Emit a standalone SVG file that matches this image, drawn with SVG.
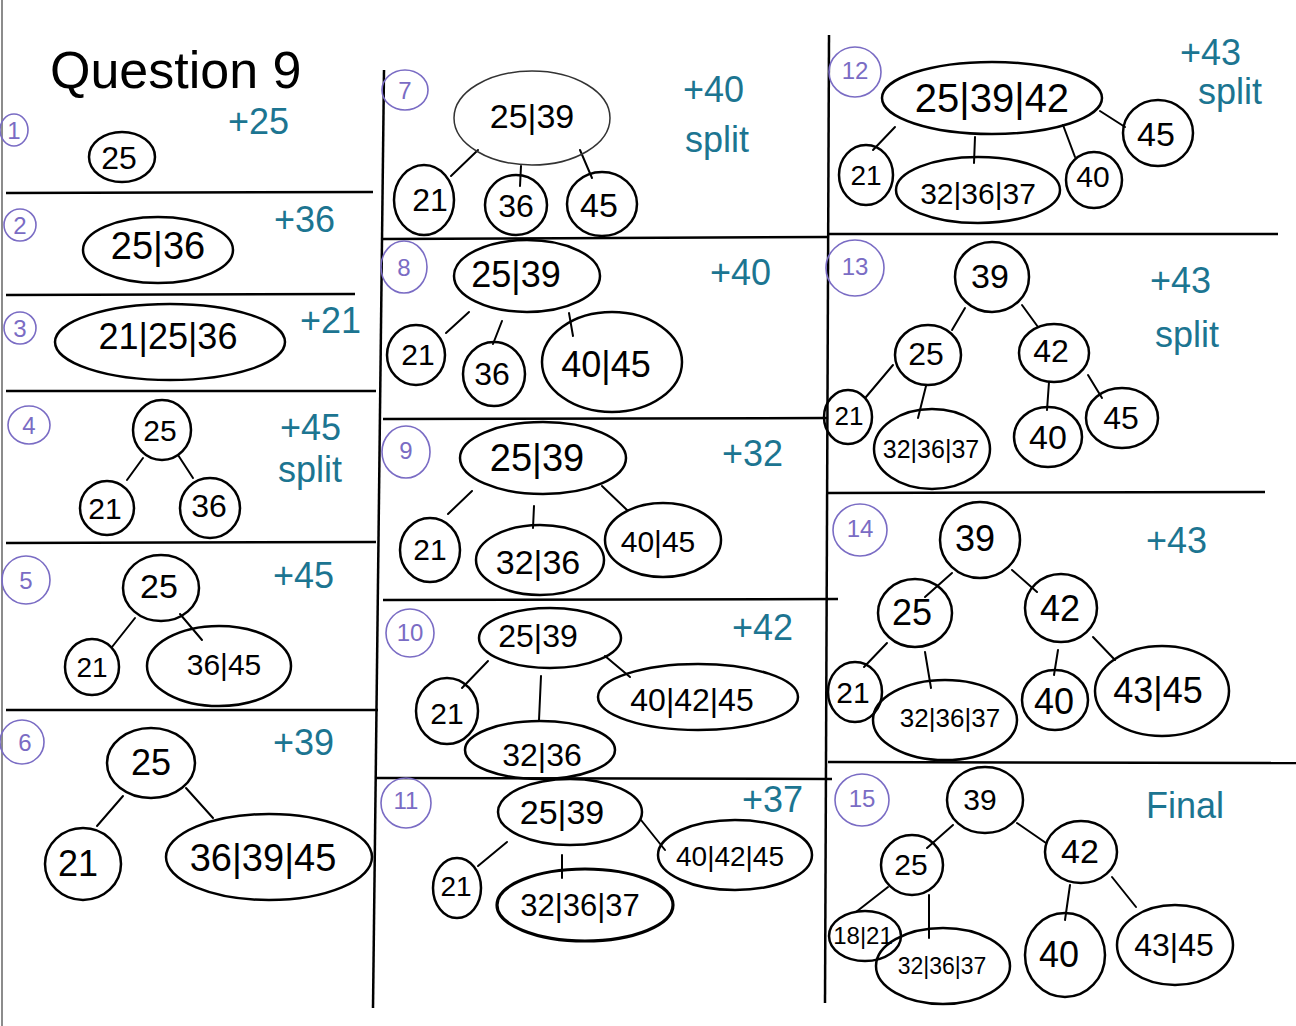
<svg xmlns="http://www.w3.org/2000/svg" width="1296" height="1026" viewBox="0 0 1296 1026">
<style>
.n{fill:none;stroke:#000;stroke-width:2.5}
.e{stroke:#000;stroke-width:2;stroke-linecap:round}
.g{stroke:#000;stroke-width:2.5;fill:none}
.t{font-family:"Liberation Sans",Arial,sans-serif;fill:#000;text-anchor:middle;dominant-baseline:central}
.sc{fill:none;stroke:#7a6cc4;stroke-width:1.6}
.sn{font-family:"Liberation Sans",Arial,sans-serif;fill:#7a6cc4;font-size:24px;text-anchor:middle;dominant-baseline:central}
.l{font-family:"Liberation Sans",Arial,sans-serif;fill:#1c7591;font-size:36px}
</style>
<rect width="1296" height="1026" fill="#fff"/>
<g id="grid">
<line x1="2" y1="0" x2="2" y2="1026" stroke="#666" stroke-width="1.5"/>
<line class="g" x1="384" y1="70" x2="373" y2="1008"/>
<line class="g" x1="829" y1="35" x2="825" y2="1003"/>
<line class="g" x1="6" y1="193" x2="373" y2="192"/>
<line class="g" x1="6" y1="295" x2="355" y2="294"/>
<line class="g" x1="6" y1="391" x2="376" y2="391"/>
<line class="g" x1="6" y1="543" x2="376" y2="542"/>
<line class="g" x1="6" y1="710" x2="378" y2="710"/>
<line class="g" x1="383" y1="239" x2="828" y2="237"/>
<line class="g" x1="383" y1="419" x2="828" y2="418"/>
<line class="g" x1="383" y1="600" x2="838" y2="599"/>
<line class="g" x1="376" y1="778" x2="832" y2="779"/>
<line class="g" x1="828" y1="234" x2="1278" y2="234"/>
<line class="g" x1="828" y1="493" x2="1265" y2="492"/>
<line class="g" x1="828" y1="762" x2="1296" y2="763"/>
</g>
<text id="title" x="50" y="88" font-family="Liberation Sans,Arial,sans-serif" font-size="52" fill="#000">Question 9</text>
<g id="steps">
<g id="step1"><ellipse class="sc" cx="14" cy="130" rx="14" ry="16"/><text class="sn" x="14" y="130">1</text></g>
<g id="step2"><ellipse class="sc" cx="20" cy="225" rx="16" ry="16"/><text class="sn" x="20" y="225">2</text></g>
<g id="step3"><ellipse class="sc" cx="20" cy="328" rx="16" ry="16"/><text class="sn" x="20" y="328">3</text></g>
<g id="step4"><ellipse class="sc" cx="29" cy="425" rx="21" ry="19"/><text class="sn" x="29" y="425">4</text></g>
<g id="step5"><ellipse class="sc" cx="26" cy="580" rx="24" ry="24"/><text class="sn" x="26" y="580">5</text></g>
<g id="step6"><ellipse class="sc" cx="22" cy="742" rx="22" ry="22"/><text class="sn" x="25" y="742">6</text></g>
<g id="step7"><ellipse class="sc" cx="405" cy="90" rx="23" ry="20"/><text class="sn" x="405" y="90">7</text></g>
<g id="step8"><ellipse class="sc" cx="404" cy="267" rx="23" ry="26"/><text class="sn" x="404" y="267">8</text></g>
<g id="step9"><ellipse class="sc" cx="406" cy="452" rx="24" ry="26"/><text class="sn" x="406" y="450">9</text></g>
<g id="step10"><ellipse class="sc" cx="410" cy="633" rx="24" ry="24"/><text class="sn" x="410" y="632">10</text></g>
<g id="step11"><ellipse class="sc" cx="406" cy="803" rx="25" ry="25"/><text class="sn" x="406" y="800">11</text></g>
<g id="step12"><ellipse class="sc" cx="855" cy="72" rx="26" ry="25"/><text class="sn" x="855" y="70">12</text></g>
<g id="step13"><ellipse class="sc" cx="855" cy="268" rx="29" ry="28"/><text class="sn" x="855" y="266">13</text></g>
<g id="step14"><ellipse class="sc" cx="860" cy="530" rx="27" ry="26"/><text class="sn" x="860" y="528">14</text></g>
<g id="step15"><ellipse class="sc" cx="862" cy="800" rx="27" ry="26"/><text class="sn" x="862" y="798">15</text></g>
</g>
<g id="labels">
<text class="l" x="228" y="134">+25</text>
<text class="l" x="274" y="232">+36</text>
<text class="l" x="300" y="333">+21</text>
<text class="l" x="280" y="440">+45</text>
<text class="l" x="278" y="482">split</text>
<text class="l" x="273" y="588">+45</text>
<text class="l" x="273" y="755">+39</text>
<text class="l" x="683" y="102">+40</text>
<text class="l" x="685" y="152">split</text>
<text class="l" x="710" y="285">+40</text>
<text class="l" x="722" y="466">+32</text>
<text class="l" x="732" y="640">+42</text>
<text class="l" x="742" y="812">+37</text>
<text class="l" x="1180" y="65">+43</text>
<text class="l" x="1198" y="104">split</text>
<text class="l" x="1150" y="293">+43</text>
<text class="l" x="1155" y="347">split</text>
<text class="l" x="1146" y="553">+43</text>
<text class="l" x="1146" y="818">Final</text>
</g>
<g id="connectors">
<line class="e" x1="143" y1="458" x2="127" y2="480"/>
<line class="e" x1="178" y1="455" x2="193" y2="478"/>
<line class="e" x1="135" y1="618" x2="112" y2="647"/>
<line class="e" x1="180" y1="614" x2="202" y2="640"/>
<line class="e" x1="123" y1="796" x2="97" y2="826"/>
<line class="e" x1="186" y1="788" x2="213" y2="818"/>
<line class="e" x1="478" y1="150" x2="451" y2="176"/>
<line class="e" x1="521" y1="166" x2="520" y2="186"/>
<line class="e" x1="580" y1="150" x2="592" y2="178"/>
<line class="e" x1="469" y1="312" x2="446" y2="333"/>
<line class="e" x1="502" y1="321" x2="493" y2="344"/>
<line class="e" x1="569" y1="313" x2="573" y2="336"/>
<line class="e" x1="472" y1="491" x2="448" y2="514"/>
<line class="e" x1="534" y1="506" x2="533" y2="528"/>
<line class="e" x1="602" y1="486" x2="627" y2="510"/>
<line class="e" x1="488" y1="661" x2="462" y2="688"/>
<line class="e" x1="541" y1="676" x2="539" y2="720"/>
<line class="e" x1="605" y1="656" x2="630" y2="677"/>
<line class="e" x1="507" y1="842" x2="478" y2="866"/>
<line class="e" x1="562" y1="855" x2="562" y2="878"/>
<line class="e" x1="641" y1="820" x2="665" y2="850"/>
<line class="e" x1="895" y1="127" x2="873" y2="150"/>
<line class="e" x1="975" y1="137" x2="974" y2="163"/>
<line class="e" x1="1063" y1="125" x2="1075" y2="157"/>
<line class="e" x1="1100" y1="111" x2="1125" y2="127"/>
<line class="e" x1="965" y1="308" x2="952" y2="330"/>
<line class="e" x1="1022" y1="305" x2="1038" y2="327"/>
<line class="e" x1="893" y1="365" x2="866" y2="397"/>
<line class="e" x1="926" y1="386" x2="918" y2="418"/>
<line class="e" x1="1049" y1="382" x2="1047" y2="410"/>
<line class="e" x1="1088" y1="375" x2="1102" y2="398"/>
<line class="e" x1="952" y1="573" x2="925" y2="597"/>
<line class="e" x1="1012" y1="570" x2="1037" y2="592"/>
<line class="e" x1="887" y1="643" x2="864" y2="667"/>
<line class="e" x1="925" y1="652" x2="931" y2="688"/>
<line class="e" x1="1058" y1="650" x2="1054" y2="675"/>
<line class="e" x1="1093" y1="637" x2="1115" y2="660"/>
<line class="e" x1="953" y1="825" x2="927" y2="848"/>
<line class="e" x1="1017" y1="823" x2="1046" y2="843"/>
<line class="e" x1="888" y1="887" x2="856" y2="912"/>
<line class="e" x1="929" y1="895" x2="929" y2="938"/>
<line class="e" x1="1070" y1="885" x2="1065" y2="920"/>
<line class="e" x1="1112" y1="877" x2="1136" y2="907"/>
</g>
<g id="nodes">
<g id="s1-25"><ellipse class="n" cx="122" cy="157" rx="33" ry="25"/><text class="t" x="119" y="158" font-size="32">25</text></g>
<g id="s2-root"><ellipse class="n" cx="158" cy="250" rx="75" ry="33"/><text class="t" x="158" y="246" font-size="38">25|36</text></g>
<g id="s3-root"><ellipse class="n" cx="170" cy="342" rx="115" ry="38"/><text class="t" x="168" y="336" font-size="36">21|25|36</text></g>
<g id="s4-25"><ellipse class="n" cx="162" cy="430" rx="29" ry="30"/><text class="t" x="160" y="430" font-size="30">25</text></g>
<g id="s4-21"><ellipse class="n" cx="107" cy="508" rx="27" ry="27"/><text class="t" x="105" y="508" font-size="30">21</text></g>
<g id="s4-36"><ellipse class="n" cx="210" cy="508" rx="30" ry="30"/><text class="t" x="209" y="506" font-size="32">36</text></g>
<g id="s5-25"><ellipse class="n" cx="161" cy="588" rx="38" ry="33"/><text class="t" x="159" y="586" font-size="34">25</text></g>
<g id="s5-21"><ellipse class="n" cx="92" cy="667" rx="27" ry="28"/><text class="t" x="92" y="667" font-size="28">21</text></g>
<g id="s5-3645"><ellipse class="n" cx="219" cy="666" rx="72" ry="40"/><text class="t" x="224" y="664" font-size="30">36|45</text></g>
<g id="s6-25"><ellipse class="n" cx="151" cy="763" rx="44" ry="35"/><text class="t" x="151" y="762" font-size="36">25</text></g>
<g id="s6-21"><ellipse class="n" cx="83" cy="864" rx="38" ry="36"/><text class="t" x="78" y="863" font-size="36">21</text></g>
<g id="s6-363945"><ellipse class="n" cx="269" cy="857" rx="103" ry="43"/><text class="t" x="263" y="858" font-size="38">36|39|45</text></g>
<g id="s7-2539"><ellipse cx="532" cy="118" rx="78" ry="47" fill="none" stroke="#333" stroke-width="1.5"/><text class="t" x="532" y="116" font-size="34">25|39</text></g>
<g id="s7-21"><ellipse class="n" cx="424" cy="200" rx="30" ry="35"/><text class="t" x="430" y="200" font-size="32">21</text></g>
<g id="s7-36"><ellipse class="n" cx="516" cy="205" rx="31" ry="30"/><text class="t" x="516" y="206" font-size="32">36</text></g>
<g id="s7-45"><ellipse class="n" cx="602" cy="204" rx="35" ry="32"/><text class="t" x="599" y="205" font-size="34">45</text></g>
<g id="s8-2539"><ellipse class="n" cx="527" cy="276" rx="73" ry="36"/><text class="t" x="516" y="274" font-size="36">25|39</text></g>
<g id="s8-21"><ellipse class="n" cx="416" cy="355" rx="29" ry="30"/><text class="t" x="418" y="354" font-size="30">21</text></g>
<g id="s8-36"><ellipse class="n" cx="494" cy="374" rx="31" ry="32"/><text class="t" x="492" y="374" font-size="32">36</text></g>
<g id="s8-4045"><ellipse class="n" cx="612" cy="362" rx="70" ry="50"/><text class="t" x="606" y="364" font-size="36">40|45</text></g>
<g id="s9-2539"><ellipse class="n" cx="543" cy="458" rx="83" ry="36"/><text class="t" x="537" y="458" font-size="38">25|39</text></g>
<g id="s9-21"><ellipse class="n" cx="430" cy="550" rx="30" ry="32"/><text class="t" x="430" y="549" font-size="30">21</text></g>
<g id="s9-3236"><ellipse class="n" cx="540" cy="560" rx="64" ry="35"/><text class="t" x="538" y="562" font-size="34">32|36</text></g>
<g id="s9-4045"><ellipse class="n" cx="663" cy="540" rx="58" ry="37"/><text class="t" x="658" y="541" font-size="30">40|45</text></g>
<g id="s10-2539"><ellipse class="n" cx="550" cy="638" rx="71" ry="30"/><text class="t" x="538" y="636" font-size="32">25|39</text></g>
<g id="s10-21"><ellipse class="n" cx="447" cy="711" rx="31" ry="33"/><text class="t" x="447" y="713" font-size="30">21</text></g>
<g id="s10-3236"><ellipse class="n" cx="540" cy="750" rx="75" ry="29"/><text class="t" x="542" y="755" font-size="32">32|36</text></g>
<g id="s10-404245"><ellipse class="n" cx="698" cy="697" rx="100" ry="33"/><text class="t" x="692" y="700" font-size="32">40|42|45</text></g>
<g id="s11-2539"><ellipse class="n" cx="570" cy="812" rx="72" ry="33"/><text class="t" x="562" y="812" font-size="34">25|39</text></g>
<g id="s11-21"><ellipse class="n" cx="457" cy="888" rx="24" ry="30"/><text class="t" x="456" y="886" font-size="28">21</text></g>
<g id="s11-323637"><ellipse cx="585" cy="905" rx="88" ry="36" fill="none" stroke="#000" stroke-width="3.2"/><text class="t" x="580" y="905" font-size="31">32|36|37</text></g>
<g id="s11-404245"><ellipse class="n" cx="735" cy="855" rx="77" ry="35"/><text class="t" x="730" y="856" font-size="28">40|42|45</text></g>
<g id="s12-253942"><ellipse class="n" cx="992" cy="98" rx="110" ry="36"/><text class="t" x="992" y="98" font-size="40">25|39|42</text></g>
<g id="s12-21"><ellipse class="n" cx="866" cy="175" rx="27" ry="30"/><text class="t" x="866" y="175" font-size="28">21</text></g>
<g id="s12-323637"><ellipse class="n" cx="978" cy="190" rx="82" ry="33"/><text class="t" x="978" y="193" font-size="30">32|36|37</text></g>
<g id="s12-40"><ellipse class="n" cx="1094" cy="180" rx="28" ry="28"/><text class="t" x="1093" y="176" font-size="30">40</text></g>
<g id="s12-45"><ellipse class="n" cx="1158" cy="133" rx="35" ry="33"/><text class="t" x="1156" y="134" font-size="34">45</text></g>
<g id="s13-39"><ellipse class="n" cx="992" cy="277" rx="37" ry="35"/><text class="t" x="990" y="276" font-size="34">39</text></g>
<g id="s13-25"><ellipse class="n" cx="928" cy="355" rx="33" ry="30"/><text class="t" x="926" y="354" font-size="32">25</text></g>
<g id="s13-42"><ellipse class="n" cx="1054" cy="353" rx="35" ry="29"/><text class="t" x="1051" y="351" font-size="32">42</text></g>
<g id="s13-21"><ellipse class="n" cx="848" cy="417" rx="24" ry="27"/><text class="t" x="849" y="416" font-size="26">21</text></g>
<g id="s13-323637"><ellipse class="n" cx="932" cy="449" rx="58" ry="40"/><text class="t" x="931" y="449" font-size="25">32|36|37</text></g>
<g id="s13-40"><ellipse class="n" cx="1048" cy="437" rx="34" ry="30"/><text class="t" x="1048" y="437" font-size="34">40</text></g>
<g id="s13-45"><ellipse class="n" cx="1122" cy="418" rx="36" ry="30"/><text class="t" x="1121" y="418" font-size="32">45</text></g>
<g id="s14-39"><ellipse class="n" cx="980" cy="540" rx="40" ry="38"/><text class="t" x="975" y="538" font-size="36">39</text></g>
<g id="s14-25"><ellipse class="n" cx="915" cy="613" rx="37" ry="34"/><text class="t" x="912" y="612" font-size="36">25</text></g>
<g id="s14-42"><ellipse class="n" cx="1061" cy="608" rx="36" ry="34"/><text class="t" x="1060" y="608" font-size="36">42</text></g>
<g id="s14-21"><ellipse class="n" cx="855" cy="692" rx="27" ry="30"/><text class="t" x="853" y="692" font-size="30">21</text></g>
<g id="s14-323637"><ellipse class="n" cx="945" cy="720" rx="72" ry="40"/><text class="t" x="950" y="718" font-size="26">32|36|37</text></g>
<g id="s14-40"><ellipse class="n" cx="1055" cy="700" rx="33" ry="30"/><text class="t" x="1054" y="701" font-size="36">40</text></g>
<g id="s14-4345"><ellipse class="n" cx="1162" cy="691" rx="67" ry="45"/><text class="t" x="1158" y="690" font-size="36">43|45</text></g>
<g id="s15-39"><ellipse class="n" cx="985" cy="800" rx="38" ry="33"/><text class="t" x="980" y="799" font-size="30">39</text></g>
<g id="s15-25"><ellipse class="n" cx="912" cy="865" rx="31" ry="30"/><text class="t" x="911" y="864" font-size="30">25</text></g>
<g id="s15-42"><ellipse class="n" cx="1081" cy="852" rx="36" ry="31"/><text class="t" x="1080" y="851" font-size="34">42</text></g>
<g id="s15-1821"><ellipse class="n" cx="865" cy="936" rx="36" ry="25"/><text class="t" x="863" y="935" font-size="24">18|21</text></g>
<g id="s15-323637"><ellipse class="n" cx="943" cy="966" rx="67" ry="38"/><text class="t" x="942" y="966" font-size="23">32|36|37</text></g>
<g id="s15-40"><ellipse class="n" cx="1065" cy="955" rx="40" ry="42"/><text class="t" x="1059" y="954" font-size="36">40</text></g>
<g id="s15-4345"><ellipse class="n" cx="1175" cy="945" rx="58" ry="40"/><text class="t" x="1174" y="945" font-size="32">43|45</text></g>
</g>
</svg>
